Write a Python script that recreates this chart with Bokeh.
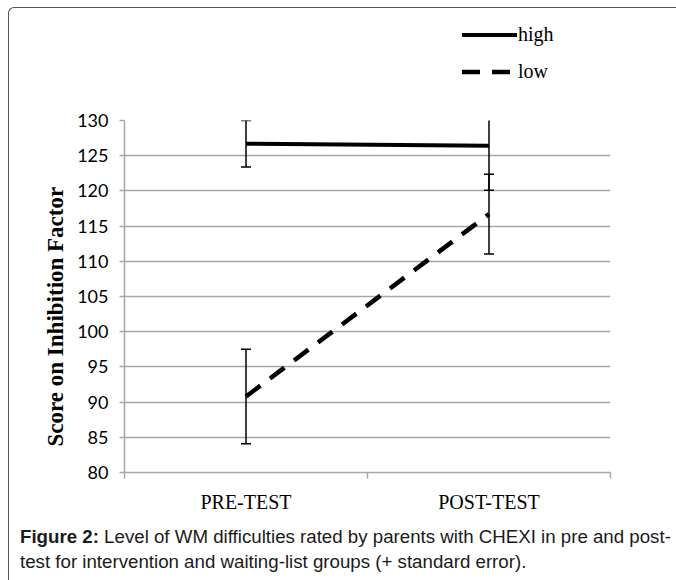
from bokeh.plotting import figure
from bokeh.models import FixedTicker, Div
from bokeh.layouts import column
from bokeh.embed import file_html
from bokeh.resources import INLINE

# ---- data ----
categories = ["PRE-TEST", "POST-TEST"]
cat_pos = [0.5, 1.5]
boundaries = [0, 1, 2]
high_mean = [126.7, 126.4]
high_err = [3.3, 6.3]
low_mean = [90.8, 116.7]
low_err = [6.7, 5.65]
y_ticks = [80, 85, 90, 95, 100, 105, 110, 115, 120, 125, 130]
series_names = ["high", "low"]

GRID = "#a6a6a6"
W = 666
DASH = "18 12"

# ---- main chart ----
p = figure(width=W, height=410, x_range=(0, 2), y_range=(80, 130),
           output_backend="svg", toolbar_location=None,
           min_border_left=115, min_border_right=W - 115 - 486,
           min_border_top=12, min_border_bottom=46)
p.outline_line_color = None

p.xaxis.ticker = FixedTicker(ticks=cat_pos, minor_ticks=boundaries)
p.xaxis.major_label_overrides = {cat_pos[i]: categories[i] for i in range(len(categories))}
p.xaxis.major_tick_out = 0
p.xaxis.major_tick_in = 0
p.xaxis.minor_tick_out = 6
p.xaxis.minor_tick_in = 0
p.xaxis.minor_tick_line_color = GRID
p.xaxis.minor_tick_line_width = 1.5
p.xaxis.axis_line_color = GRID
p.xaxis.axis_line_width = 1.5
p.xaxis.major_label_standoff = 12
p.xaxis.major_label_text_font = "Liberation Serif"
p.xaxis.major_label_text_font_size = "20px"
p.xaxis.major_label_text_color = "black"
p.xgrid.visible = False

p.yaxis.ticker = FixedTicker(ticks=y_ticks)
p.yaxis.major_tick_out = 5
p.yaxis.major_tick_in = 0
p.yaxis.minor_tick_line_color = None
p.yaxis.major_tick_line_color = GRID
p.yaxis.major_tick_line_width = 1.5
p.yaxis.axis_line_color = GRID
p.yaxis.axis_line_width = 1.5
p.yaxis.major_label_standoff = 11
p.yaxis.major_label_text_font = "Lato"
p.yaxis.major_label_text_font_size = "18px"
p.yaxis.major_label_text_color = "black"
p.yaxis.axis_label = "Score on Inhibition Factor" + "\u00a0" * 7
p.yaxis.axis_label_text_font = "Liberation Serif"
p.yaxis.axis_label_text_font_style = "bold"
p.yaxis.axis_label_text_font_size = "23px"
p.yaxis.axis_label_text_color = "black"
p.yaxis.axis_label_standoff = 6
p.ygrid.ticker = FixedTicker(ticks=y_ticks)
p.ygrid.grid_line_color = GRID
p.ygrid.grid_line_width = 1.5

for mean, err in ((high_mean, high_err), (low_mean, low_err)):
    lo = [m - e for m, e in zip(mean, err)]
    hi = [m + e for m, e in zip(mean, err)]
    p.segment(x0=cat_pos, y0=lo, x1=cat_pos, y1=hi, line_color="black", line_width=1.5)
    p.dash(x=cat_pos, y=lo, size=10, line_color="black", line_width=1.5)
    p.dash(x=cat_pos, y=hi, size=10, line_color="black", line_width=1.5)

p.line(cat_pos, high_mean, line_color="black", line_width=4)
p.line(cat_pos, low_mean, line_color="black", line_width=4.5, line_dash=DASH)

# ---- legend strip above the chart (inline SVG, real text) ----
FONT = "font-family:'Liberation Serif','Times New Roman',serif;font-size:20px;fill:black"
legend_svg = (
    '<svg width="666" height="100" xmlns="http://www.w3.org/2000/svg" style="display:block">'
    '<line x1="453" y1="27" x2="508" y2="27" stroke="black" stroke-width="4"/>'
    f'<text x="509" y="33" style="{FONT}">{series_names[0]}</text>'
    f'<line x1="453" y1="64" x2="501" y2="64" stroke="black" stroke-width="4.5" stroke-dasharray="{DASH}"/>'
    f'<text x="509" y="70" style="{FONT}">{series_names[1]}</text>'
    '</svg>'
)
legend_div = Div(text=legend_svg, width=W, height=100,
                 styles={"line-height": "0", "margin": "0", "padding": "0"})

caption = Div(text="<b>Figure 2:</b> Level of WM difficulties rated by parents with CHEXI in pre and post-<br>"
                   "test for intervention and waiting-list groups (+ standard error).",
              width=W, height=62,
              styles={"font-family": "Liberation Sans", "font-size": "18.7px",
                      "line-height": "25px", "padding-left": "6px", "padding-top": "1px",
                      "white-space": "nowrap", "color": "#1a1a1a"})

layout = column(legend_div, p, caption, spacing=0,
                styles={"margin-left": "8px", "margin-top": "7px",
                        "border-left": "1px solid #555", "border-top": "1px solid #555",
                        "border-top-left-radius": "6px"})

open("out.html", "w").write(file_html(layout, INLINE))
